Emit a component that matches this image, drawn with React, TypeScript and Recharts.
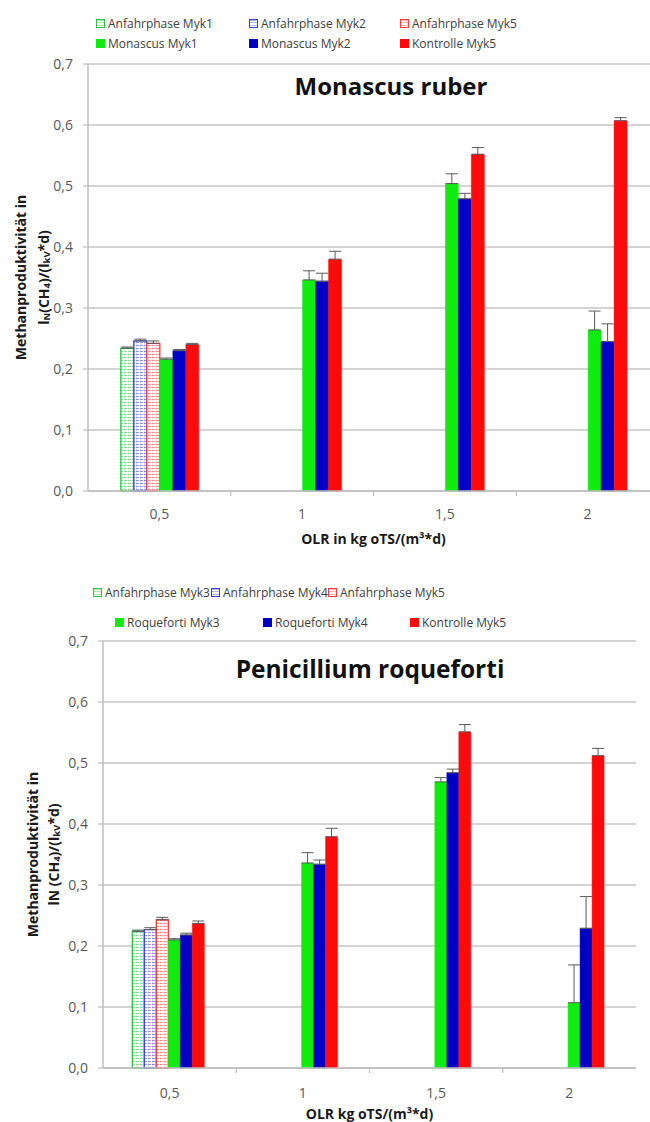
import React from 'react';
import { BarChart, Bar, XAxis, YAxis, CartesianGrid, Legend, ErrorBar } from 'recharts';

const categories = ['0,5', '1', '1,5', '2'];
const yTicks = [0, 0.1, 0.2, 0.3, 0.4, 0.5, 0.6, 0.7];

// Monascus ruber
const mrAnfahrMyk1 = [0.234, null, null, null];
const mrAnfahrMyk1Err = [0.002, null, null, null];
const mrAnfahrMyk2 = [0.246, null, null, null];
const mrAnfahrMyk2Err = [0.003, null, null, null];
const mrAnfahrMyk5 = [0.242, null, null, null];
const mrAnfahrMyk5Err = [0.004, null, null, null];
const mrMonascusMyk1 = [0.216, 0.346, 0.504, 0.264];
const mrMonascusMyk1Err = [0.002, 0.015, 0.016, 0.031];
const mrMonascusMyk2 = [0.23, 0.344, 0.479, 0.245];
const mrMonascusMyk2Err = [0.002, 0.013, 0.009, 0.029];
const mrKontrolleMyk5 = [0.24, 0.38, 0.552, 0.607];
const mrKontrolleMyk5Err = [0.002, 0.013, 0.011, 0.005];

// Penicillium roqueforti
const prAnfahrMyk3 = [0.224, null, null, null];
const prAnfahrMyk3Err = [0.002, null, null, null];
const prAnfahrMyk4 = [0.227, null, null, null];
const prAnfahrMyk4Err = [0.003, null, null, null];
const prAnfahrMyk5 = [0.243, null, null, null];
const prAnfahrMyk5Err = [0.004, null, null, null];
const prRoquefortiMyk3 = [0.21, 0.336, 0.469, 0.107];
const prRoquefortiMyk3Err = [0.002, 0.017, 0.007, 0.062];
const prRoquefortiMyk4 = [0.218, 0.334, 0.484, 0.229];
const prRoquefortiMyk4Err = [0.003, 0.007, 0.006, 0.052];
const prKontrolleMyk5 = [0.237, 0.379, 0.551, 0.512];
const prKontrolleMyk5Err = [0.004, 0.014, 0.012, 0.012];

const GREEN = '#10ec10';
const BLUE = '#0000c4';
const RED = '#ff0a0a';
const GREEN_H = '#2cbf4a';
const BLUE_H = '#3a46d0';
const RED_H = '#ee3b3b';

const FONT = '"Open Sans", Lato, sans-serif';

type Series = {
  key: string;
  name: string;
  color: string;
  hatched: boolean;
  values: (number | null)[];
  errors: (number | null)[];
};

const monascusSeries: Series[] = [
  { key: 'a1', name: 'Anfahrphase Myk1', color: GREEN_H, hatched: true, values: mrAnfahrMyk1, errors: mrAnfahrMyk1Err },
  { key: 'a2', name: 'Anfahrphase Myk2', color: BLUE_H, hatched: true, values: mrAnfahrMyk2, errors: mrAnfahrMyk2Err },
  { key: 'a5', name: 'Anfahrphase Myk5', color: RED_H, hatched: true, values: mrAnfahrMyk5, errors: mrAnfahrMyk5Err },
  { key: 'm1', name: 'Monascus Myk1', color: GREEN, hatched: false, values: mrMonascusMyk1, errors: mrMonascusMyk1Err },
  { key: 'm2', name: 'Monascus Myk2', color: BLUE, hatched: false, values: mrMonascusMyk2, errors: mrMonascusMyk2Err },
  { key: 'k5', name: 'Kontrolle Myk5', color: RED, hatched: false, values: mrKontrolleMyk5, errors: mrKontrolleMyk5Err },
];

const roquefortiSeries: Series[] = [
  { key: 'a3', name: 'Anfahrphase Myk3', color: GREEN_H, hatched: true, values: prAnfahrMyk3, errors: prAnfahrMyk3Err },
  { key: 'a4', name: 'Anfahrphase Myk4', color: BLUE_H, hatched: true, values: prAnfahrMyk4, errors: prAnfahrMyk4Err },
  { key: 'a5', name: 'Anfahrphase Myk5', color: RED_H, hatched: true, values: prAnfahrMyk5, errors: prAnfahrMyk5Err },
  { key: 'r3', name: 'Roqueforti Myk3', color: GREEN, hatched: false, values: prRoquefortiMyk3, errors: prRoquefortiMyk3Err },
  { key: 'r4', name: 'Roqueforti Myk4', color: BLUE, hatched: false, values: prRoquefortiMyk4, errors: prRoquefortiMyk4Err },
  { key: 'k5', name: 'Kontrolle Myk5', color: RED, hatched: false, values: prKontrolleMyk5, errors: prKontrolleMyk5Err },
];

const buildRows = (series: Series[]) =>
  categories.map((cat, i) => {
    const row: Record<string, any> = { cat };
    series.forEach((s) => {
      row[s.key] = s.values[i];
      const e = s.errors[i];
      row[s.key + 'Err'] = e == null ? null : [0, e];
    });
    return row;
  });

const fmt = (v: number) => v.toFixed(1).replace('.', ',');

// legend: two rows, three columns, each entry given its own left offset
const LegendBox = ({ series, rows, height }: { series: Series[]; rows: { y: number; xs: number[] }[]; height: number }) => (
  <div style={{ position: 'relative', height, fontFamily: FONT, fontSize: 12, color: '#404040' }}>
    {series.map((s, i) => {
      const row = rows[Math.floor(i / 3)];
      const left = row.xs[i % 3];
      const marker: React.CSSProperties = s.hatched
        ? {
            border: `1.5px solid ${s.color}`,
            background: `repeating-linear-gradient(0deg, #fff 0px, #fff 1.5px, ${s.color}66 1.5px, ${s.color}66 2.5px)`,
          }
        : { background: s.color };
      return (
        <div key={s.key} style={{ position: 'absolute', left, top: row.y - 9, height: 18, display: 'flex', alignItems: 'center', whiteSpace: 'nowrap' }}>
          <span style={{ width: 9, height: 9, boxSizing: 'border-box', marginRight: 3, ...marker }} />
          <span>{s.name}</span>
        </div>
      );
    })}
  </div>
);

const makeXTick = (labelDy: number) => (props: any) => {
  const { x, y, payload, index } = props;
  const half = payload.offset ?? 0;
  return (
    <g>
      <text x={x} y={y + labelDy} textAnchor="middle" dominantBaseline="central" fill="#595959" fontSize={14} fontFamily={FONT}>
        {payload.value}
      </text>
      {index < categories.length - 1 && (
        <line x1={x + half} x2={x + half} y1={y} y2={y + 5} stroke="#bfbfbf" strokeWidth={1.2} />
      )}
    </g>
  );
};

const yLabel = (x1: number, x2: number, spaceAfterN: boolean, subN: boolean) => (props: any) => {
  const vb = props.viewBox;
  const cy = vb.y + vb.height / 2;
  return (
    <g fontFamily={FONT} fontWeight={700} fontSize={14} fill="#1a1a1a">
      <text x={x1} y={cy} textAnchor="middle" dominantBaseline="central" transform={`rotate(-90, ${x1}, ${cy})`}>
        Methanproduktivität in
      </text>
      <text x={x2} y={cy} textAnchor="middle" dominantBaseline="central" transform={`rotate(-90, ${x2}, ${cy})`}>
        l
        {subN ? (
          <>
            <tspan dy={3} fontSize={9.5}>N</tspan>
            <tspan dy={-3}>{spaceAfterN ? ' (CH' : '(CH'}</tspan>
          </>
        ) : (
          <tspan>{spaceAfterN ? 'N (CH' : 'N(CH'}</tspan>
        )}
        <tspan dy={3} fontSize={9.5}>4</tspan>
        <tspan dy={-3}>)/(l</tspan>
        <tspan dy={3} fontSize={9.5}>kV</tspan>
        <tspan dy={-3}>*d)</tspan>
      </text>
    </g>
  );
};

const xLabel = (text: string, dy: number) => (props: any) => {
  const vb = props.viewBox;
  return (
    <text x={vb.x + vb.width / 2} y={vb.y + dy} textAnchor="middle" dominantBaseline="central" fontFamily={FONT} fontWeight={700} fontSize={14} fill="#1a1a1a">
      {text}
    </text>
  );
};

const Patterns = ({ prefix }: { prefix: string }) => (
  <defs>
    {[GREEN_H, BLUE_H, RED_H].map((c, i) => (
      <pattern key={c} id={`${prefix}-h${i}`} width={4} height={3} patternUnits="userSpaceOnUse">
        <rect width={4} height={3} fill="#fff" />
        <path d="M0 0.5 H3" stroke={c} strokeWidth={1} opacity={0.55} />
        <path d="M0.5 0 V3" stroke={c} strokeWidth={0.6} opacity={0.25} />
      </pattern>
    ))}
  </defs>
);

type PanelProps = {
  title: string;
  titleX: number;
  titleY: number;
  titleSize: number;
  series: Series[];
  prefix: string;
  top: number;
  height: number;
  margin: { top: number; right: number; bottom: number; left: number };
  legendRows: { y: number; xs: number[] }[];
  legendHeight: number;
  gap: string;
  xAxisHeight: number;
  tickDy: number;
  xLabelText: string;
  xLabelDy: number;
  yLabelX: [number, number];
  spaceAfterN: boolean;
  subN: boolean;
};

const Panel = (p: PanelProps) => {
  const data = buildRows(p.series);
  const hatchIdx: Record<string, number> = { [GREEN_H]: 0, [BLUE_H]: 1, [RED_H]: 2 };
  return (
    <div style={{ position: 'absolute', left: 0, top: p.top }}>
      <BarChart width={700} height={p.height} data={data} margin={p.margin} barCategoryGap={p.gap} barGap={0}>
        <Patterns prefix={p.prefix} />
        <Legend
          verticalAlign="top"
          align="left"
          wrapperStyle={{ top: 0, left: 0, width: 700, height: p.legendHeight }}
          content={() => <LegendBox series={p.series} rows={p.legendRows} height={p.legendHeight} />}
        />
        <CartesianGrid vertical={false} stroke="#c4c4c4" strokeWidth={1.3} />
        <XAxis
          dataKey="cat"
          interval={0}
          height={p.xAxisHeight}
          tickSize={0}
          tickMargin={0}
          tickLine={false}
          axisLine={{ stroke: '#bfbfbf', strokeWidth: 1.5 }}
          tick={makeXTick(p.tickDy)}
          label={{ content: xLabel(p.xLabelText, p.xLabelDy) }}
        />
        <YAxis
          domain={[0, 0.7]}
          ticks={yTicks}
          interval={0}
          width={58}
          tickFormatter={fmt}
          tickSize={5}
          tickMargin={10}
          tick={{ fill: '#595959', fontSize: 14, fontFamily: FONT }}
          axisLine={{ stroke: '#bfbfbf', strokeWidth: 1.5 }}
          tickLine={{ stroke: '#bfbfbf', strokeWidth: 1.2 }}
          label={{ content: yLabel(p.yLabelX[0], p.yLabelX[1], p.spaceAfterN, p.subN) }}
        />
        {p.series.map((s) => (
          <Bar
            key={s.key}
            dataKey={s.key}
            name={s.name}
            fill={s.hatched ? `url(#${p.prefix}-h${hatchIdx[s.color]})` : s.color}
            stroke={s.color}
            strokeWidth={s.hatched ? 1.3 : 0.5}
            isAnimationActive={false}
          >
            <ErrorBar dataKey={s.key + 'Err'} direction="y" width={6} stroke="#5a5a5a" strokeWidth={1} />
          </Bar>
        ))}
        <text x={p.titleX} y={p.titleY} textAnchor="middle" dominantBaseline="central" fontFamily={FONT} fontWeight={700} fontSize={p.titleSize} fill="#111">
          {p.title}
        </text>
      </BarChart>
    </div>
  );
};

export default function App() {
  return (
    <div style={{ position: 'absolute', left: 0, top: 0, width: 650, height: 1122, overflow: 'hidden', background: '#fff', fontFamily: FONT }}>
      <Panel
        title="Monascus ruber"
        titleX={391}
        titleY={85}
        titleSize={24}
        series={monascusSeries}
        prefix="mr"
        top={0}
        height={560}
        margin={{ top: 14, right: 41, bottom: 29, left: 30 }}
        legendRows={[
          { y: 23, xs: [96, 249, 400] },
          { y: 43, xs: [96, 249, 400] },
        ]}
        legendHeight={50}
        gap="23%"
        xAxisHeight={40}
        tickDy={22}
        xLabelText="OLR in kg oTS/(m³*d)"
        xLabelDy={47}
        yLabelX={[20, 43]}
        spaceAfterN={false}
        subN={true}
      />
      <Panel
        title="Penicillium roqueforti"
        titleX={370}
        titleY={108}
        titleSize={24.5}
        series={roquefortiSeries}
        prefix="pr"
        top={560}
        height={562}
        margin={{ top: 11, right: 64, bottom: 24, left: 45 }}
        legendRows={[
          { y: 32, xs: [93, 211, 328] },
          { y: 62, xs: [115, 263, 410] },
        ]}
        legendHeight={70}
        gap="22%"
        xAxisHeight={30}
        tickDy={24}
        xLabelText="OLR kg oTS/(m³*d)"
        xLabelDy={45}
        yLabelX={[32, 53]}
        spaceAfterN={true}
        subN={false}
      />
    </div>
  );
}
